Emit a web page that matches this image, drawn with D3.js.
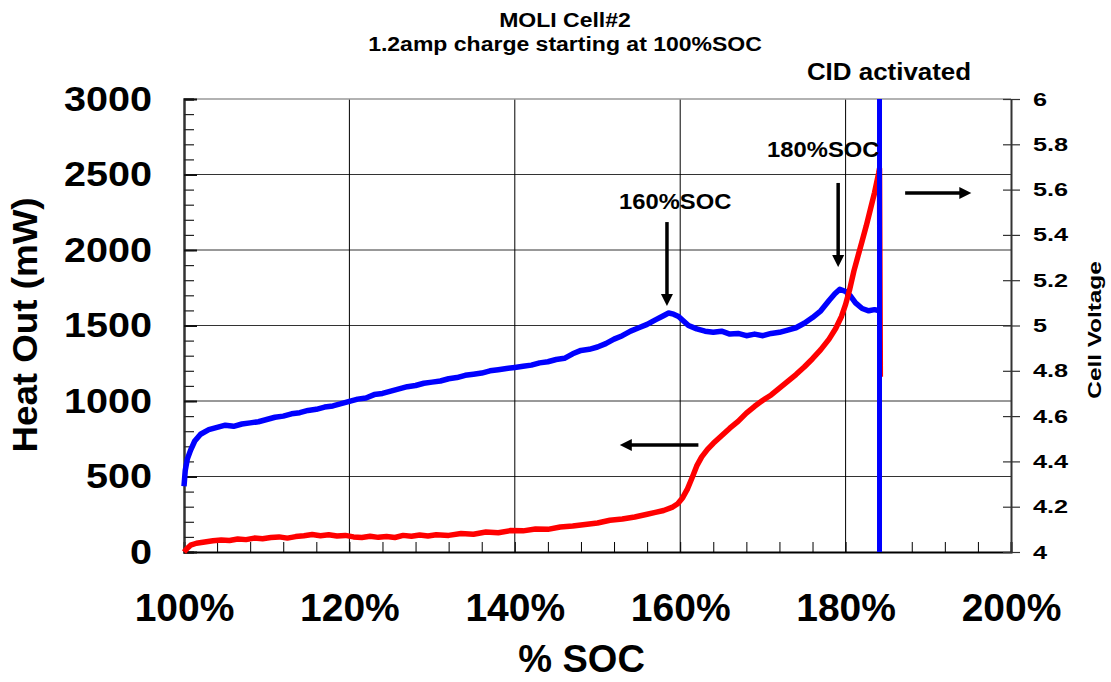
<!DOCTYPE html>
<html>
<head>
<meta charset="utf-8">
<script src="https://cdn.jsdelivr.net/npm/d3@7"></script>
<style>
body { margin: 0; background: #fff; }
svg text { font-family: "Liberation Sans", Arial, sans-serif; font-weight: bold; fill: #000; }
</style>
</head>
<body>
<svg id="chart" width="1111" height="682"></svg>
<script>
// chart text
var titleLines = ["MOLI Cell#2", "1.2amp charge starting at 100%SOC"];
var xTitle = "% SOC";
var yLeftTitle = "Heat Out (mW)";
var yRightTitle = "Cell Voltage";

// tick values
var socTicks = [100, 120, 140, 160, 180, 200];
var heatTicks = [0, 500, 1000, 1500, 2000, 2500, 3000];
var voltTicks = [4, 4.2, 4.4, 4.6, 4.8, 5, 5.2, 5.4, 5.6, 5.8, 6];

// heat out (left axis)
var heatSoc = [100, 100.4, 100.8, 101.5, 102.5, 103.5, 104.5, 105.5, 106.5, 107.5, 108.5, 109.5,
   110.5, 111.5, 112.5, 113.5, 114.5, 115.5, 116.5, 117.5, 118.5, 119.5, 120.5, 121.5, 122.5,
   123.5, 124.5, 125.5, 126.5, 127.5, 128.5, 129.5, 130.5, 132, 133.5, 135, 136.5, 138, 139.5,
   141, 142.5, 144, 145.5, 147, 148.5, 150, 151.5, 153, 154.5, 156, 157, 158, 159, 159.7, 160.3,
   160.9, 161.5, 162, 162.6, 163.3, 164, 165, 166, 167, 168, 169, 170, 171, 172, 173, 174, 175,
   176, 177, 178, 178.8, 179.5, 180, 180.5, 181, 181.5, 182, 182.5, 183, 183.5, 184, 184.1, 184.2];
var heatOut = [0, 25, 45, 58, 66, 74, 80, 76, 86, 82, 92, 88,
   96, 100, 92, 102, 108, 116, 108, 114, 106, 110, 100, 96, 104,
   97, 102, 96, 110, 104, 112, 106, 114, 110, 122, 118, 132, 128, 142,
   140, 152, 150, 166, 172, 182, 192, 210, 218, 232, 250, 262, 275, 295, 320, 360,
   420, 500, 570, 630, 680, 720, 770, 820, 865, 920, 965, 1005, 1040, 1085, 1130, 1175, 1225,
   1280, 1340, 1410, 1480, 1560, 1640, 1740, 1860, 1960, 2060, 2160, 2270, 2380, 2510, 2540, 1160];

// cell voltage (right axis)
var voltSoc = [100, 100.15, 100.4, 100.8, 101.3, 102, 103, 104, 105, 106, 107, 108, 109, 110,
   111, 112, 113, 114, 115, 116, 117, 118, 119, 120, 121, 122, 123, 124, 125, 126, 127, 128,
   129, 130, 131, 132, 133, 134, 135, 136, 137, 138, 139, 140, 141, 142, 143, 144, 145, 146,
   147, 148, 149, 150, 151, 152, 153, 154, 155, 156, 157, 157.8, 158.6, 159.2, 159.8, 160.4,
   161, 162, 163, 164, 165, 166, 167, 168, 169, 170, 171, 172, 173, 174, 175, 176, 177, 178,
   178.7, 179.3, 180, 180.6, 181.2, 182, 182.8, 183.5, 184.1];
var cellVoltage = [4.29, 4.36, 4.41, 4.45, 4.49, 4.52, 4.54, 4.55, 4.56, 4.555, 4.565, 4.57, 4.575, 4.585,
   4.595, 4.6, 4.61, 4.615, 4.625, 4.63, 4.64, 4.645, 4.655, 4.665, 4.675, 4.68, 4.695, 4.7, 4.71, 4.72, 4.73, 4.735,
   4.745, 4.75, 4.755, 4.765, 4.77, 4.78, 4.785, 4.79, 4.8, 4.805, 4.81, 4.815, 4.82, 4.825, 4.835, 4.84, 4.85, 4.855,
   4.875, 4.89, 4.895, 4.905, 4.92, 4.94, 4.955, 4.975, 4.99, 5.005, 5.025, 5.04, 5.055, 5.05, 5.04, 5.02,
   5.0, 4.985, 4.975, 4.97, 4.975, 4.962, 4.965, 4.955, 4.962, 4.955, 4.965, 4.97, 4.98, 4.99, 5.01, 5.035, 5.065, 5.11,
   5.14, 5.16, 5.15, 5.13, 5.1, 5.075, 5.065, 5.07, 5.065];

// CID activation point
var cidSoc = 184.1;

// annotations in data units
var notes = [
   {label: "160%SOC", soc: 159.4, heat: 2272},
   {label: "180%SOC", soc: 177.3, heat: 2616}
];
var arrows = [
   {axis: "heat", soc0: 158.4, v0: 2185, soc1: 158.4, v1: 1629},
   {axis: "heat", soc0: 179.1, v0: 2444, soc1: 179.1, v1: 1887},
   {axis: "heat", soc0: 162.2, v0: 709, soc1: 152.7, v1: 709},
   {axis: "volt", soc0: 187.2, v0: 5.585, soc1: 195.2, v1: 5.585}
];

var margin = {top: 99, right: 100, bottom: 130, left: 184},
   width = 1111 - margin.left - margin.right,
   height = 682 - margin.top - margin.bottom;

var svg = d3.select("#chart");
var g = svg.append("g").attr("transform", "translate(" + margin.left + "," + margin.top + ")");

var x = d3.scaleLinear().domain([100, 200]).range([0, width]);
var yHeat = d3.scaleLinear().domain([0, 3000]).range([height, 0]);
var yVolt = d3.scaleLinear().domain([4, 6]).range([height, 0]);

// widen glyphs along the text direction, the original font is wider than Arial
function stretch(sel, k) {
   sel.each(function() {
      var len = this.getComputedTextLength();
      d3.select(this).attr("textLength", len * k).attr("lengthAdjust", "spacingAndGlyphs");
   });
}

// grid
g.selectAll(".hgrid")
   .data(heatTicks.slice(1, -1))
   .enter().append("line")
   .attr("x1", 0).attr("x2", width)
   .attr("y1", function(d) { return yHeat(d); })
   .attr("y2", function(d) { return yHeat(d); })
   .attr("stroke", "#333").attr("stroke-width", 1);

g.selectAll(".vgrid")
   .data(socTicks.slice(1, -1))
   .enter().append("line")
   .attr("y1", 0).attr("y2", height)
   .attr("x1", function(d) { return x(d); })
   .attr("x2", function(d) { return x(d); })
   .attr("stroke", "#000").attr("stroke-width", 1);

g.append("line")
   .attr("x1", 0).attr("x2", width).attr("y1", 0).attr("y2", 0)
   .attr("stroke", "#999").attr("stroke-width", 1.5);

// bottom axis, minor ticks every 4%
var xMinor = g.append("g").attr("transform", "translate(0," + height + ")")
   .call(d3.axisBottom(x).tickValues(d3.range(100, 201, 4)).tickSize(-10).tickFormat(""));
xMinor.select(".domain").attr("stroke", "#000").attr("stroke-width", 2);
xMinor.selectAll("line").attr("stroke", "#000").attr("stroke-width", 1);

var xMajor = g.append("g").attr("transform", "translate(0," + height + ")")
   .call(d3.axisBottom(x).tickValues(socTicks).tickSizeInner(0).tickSizeOuter(0).tickPadding(41)
      .tickFormat(function(d) { return d + "%"; }));
xMajor.select(".domain").remove();
xMajor.selectAll("text").style("font-size", "39px")
   .style("font-family", "'Liberation Sans', Arial, sans-serif").style("font-weight", "bold");

// left axis, minor ticks every 100
var yMinor = g.append("g")
   .call(d3.axisLeft(yHeat).tickValues(d3.range(0, 3001, 100)).tickSize(-10).tickFormat(""));
yMinor.select(".domain").attr("stroke", "#333").attr("stroke-width", 2.5);
yMinor.selectAll("line").attr("stroke", "#222").attr("stroke-width", 1.2);

var yMajor = g.append("g")
   .call(d3.axisLeft(yHeat).tickValues(heatTicks).tickSizeInner(-13).tickSizeOuter(0).tickPadding(32)
      .tickFormat(d3.format("d")));
yMajor.select(".domain").remove();
yMajor.selectAll("line").attr("stroke", "#111").attr("stroke-width", 2);
yMajor.selectAll("text").style("font-size", "35px")
   .style("font-family", "'Liberation Sans', Arial, sans-serif").style("font-weight", "bold")
   .call(stretch, 1.13);

// right axis
var yRight = g.append("g").attr("transform", "translate(" + width + ",0)")
   .call(d3.axisRight(yVolt).tickValues(voltTicks).tickSizeInner(9).tickSizeOuter(0).tickPadding(13)
      .tickFormat(function(d) { return String(+d.toFixed(1)); }));
yRight.select(".domain").attr("stroke", "#333").attr("stroke-width", 2);
yRight.selectAll("line").attr("x1", -8).attr("stroke", "#333").attr("stroke-width", 1.2);
yRight.selectAll("text").style("font-size", "19px")
   .style("font-family", "'Liberation Sans', Arial, sans-serif").style("font-weight", "bold")
   .call(stretch, 1.33);

// series
var heatData = heatSoc.map(function(s, i) { return {soc: s, value: heatOut[i]}; });
var voltData = voltSoc.map(function(s, i) { return {soc: s, value: cellVoltage[i]}; });

g.append("path")
   .datum(voltData)
   .attr("fill", "none")
   .attr("stroke", "#0000ff")
   .attr("stroke-width", 5.5)
   .attr("stroke-linejoin", "round")
   .attr("d", d3.line()
      .x(function(d) { return x(d.soc); })
      .y(function(d) { return yVolt(d.value); }));

g.append("path")
   .datum(heatData)
   .attr("fill", "none")
   .attr("stroke", "#ff0000")
   .attr("stroke-width", 5.5)
   .attr("stroke-linejoin", "round")
   .attr("d", d3.line()
      .x(function(d) { return x(d.soc); })
      .y(function(d) { return yHeat(d.value); }));

// CID line
g.append("line")
   .attr("x1", x(cidSoc)).attr("x2", x(cidSoc))
   .attr("y1", 0).attr("y2", height)
   .attr("stroke", "#0000ff").attr("stroke-width", 5);

// arrows
arrows.forEach(function(a) {
   var y = a.axis == "heat" ? yHeat : yVolt;
   var x0 = x(a.soc0), y0 = y(a.v0), x1 = x(a.soc1), y1 = y(a.v1);
   var len = Math.hypot(x1 - x0, y1 - y0);
   var ux = (x1 - x0) / len, uy = (y1 - y0) / len;
   var head = 12, half = 6;
   g.append("line")
      .attr("x1", x0).attr("y1", y0)
      .attr("x2", x1 - ux * (head - 2)).attr("y2", y1 - uy * (head - 2))
      .attr("stroke", "#000").attr("stroke-width", 3.5);
   var bx = x1 - ux * head, by = y1 - uy * head;
   g.append("path")
      .attr("d", "M" + x1 + "," + y1 +
         "L" + (bx - uy * half) + "," + (by + ux * half) +
         "L" + (bx + uy * half) + "," + (by - ux * half) + "Z")
      .attr("fill", "#000");
});

// annotation labels
g.selectAll(".note")
   .data(notes)
   .enter().append("text")
   .attr("x", function(d) { return x(d.soc); })
   .attr("y", function(d) { return yHeat(d.heat); })
   .attr("text-anchor", "middle")
   .style("font-size", "22px")
   .text(function(d) { return d.label; })
   .call(stretch, 1.08);

svg.append("text")
   .attr("x", margin.left + x(185.25)).attr("y", 80)
   .attr("text-anchor", "middle")
   .style("font-size", "24px")
   .text("CID activated")
   .call(stretch, 1.08);

// titles
svg.selectAll(".title")
   .data(titleLines)
   .enter().append("text")
   .attr("x", 565)
   .attr("y", function(d, i) { return 27 + i * 24; })
   .attr("text-anchor", "middle")
   .style("font-size", "20px")
   .text(function(d) { return d; })
   .call(stretch, 1.15);

svg.append("text")
   .attr("x", margin.left + width / 2 - 16).attr("y", 672)
   .attr("text-anchor", "middle")
   .style("font-size", "38px")
   .text(xTitle);

svg.append("text")
   .attr("transform", "translate(37,325) rotate(-90)")
   .attr("text-anchor", "middle")
   .style("font-size", "35px")
   .text(yLeftTitle)
   .call(stretch, 1.05);

svg.append("text")
   .attr("transform", "translate(1101,330) rotate(-90)")
   .attr("text-anchor", "middle")
   .style("font-size", "19px")
   .text(yRightTitle)
   .call(stretch, 1.28);
</script>
</body>
</html>
